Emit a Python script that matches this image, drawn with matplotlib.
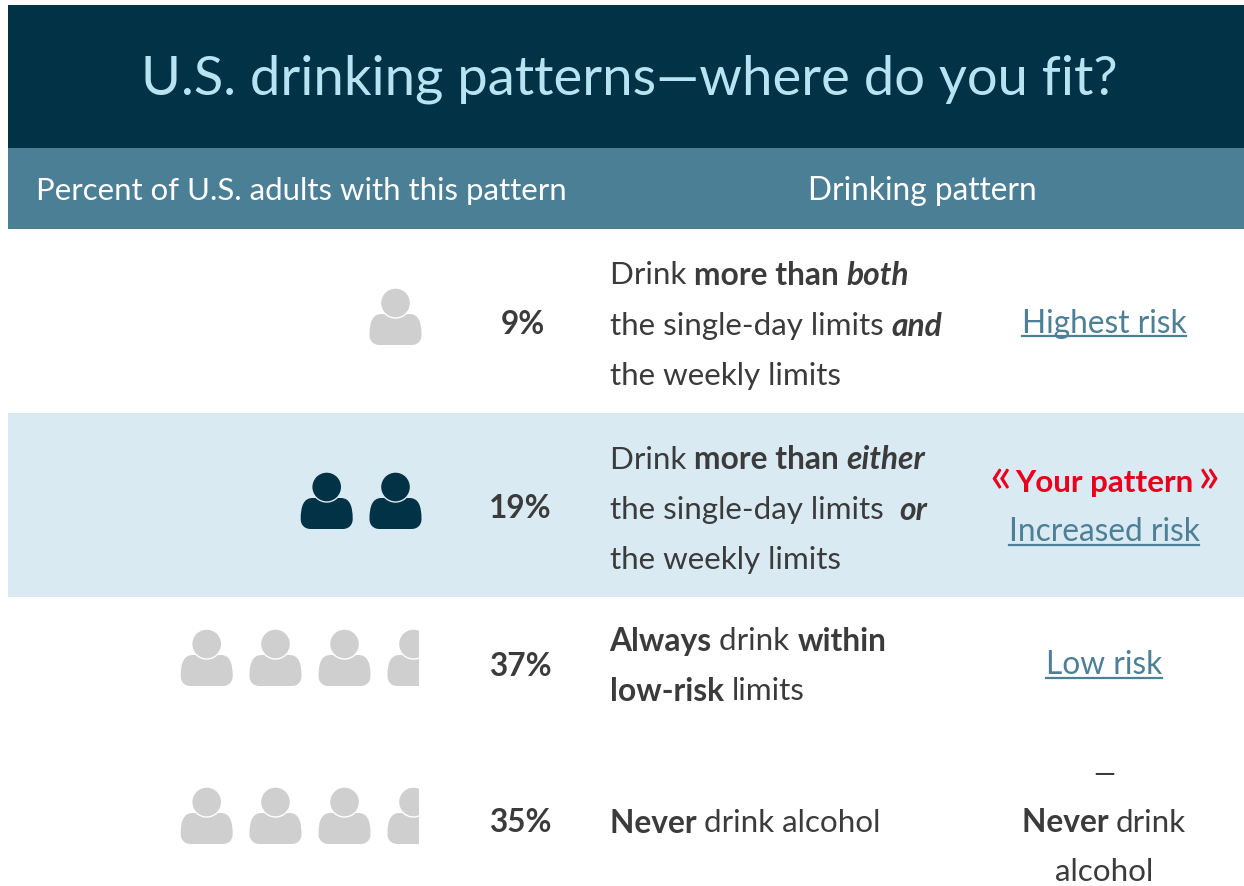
import matplotlib
matplotlib.use("Agg")
import matplotlib.pyplot as plt
from matplotlib.patches import Rectangle, Circle, PathPatch
from matplotlib.path import Path

plt.rcParams['font.family'] = ['Lato', 'DejaVu Sans']

title = "U.S. drinking patterns\u2014where do you fit?"
col_left = "Percent of U.S. adults with this pattern"
col_right = "Drinking pattern"
percent_labels = ["9%", "19%", "37%", "35%"]
risk_labels = ["Highest risk", "Increased risk", "Low risk"]

GREY = "#cfcfcf"
NAVY = "#023246"
LINK = "#4d7f96"
TEXT = "#3b3b3b"
PALE = "#d9eaf2"

fig = plt.figure(figsize=(12.44, 8.86), dpi=100)
ax = fig.add_axes([0, 0, 1, 1])
ax.set_xlim(0, 1244)
ax.set_ylim(886, 0)
ax.axis("off")
rend = fig.canvas.get_renderer()

ax.add_patch(Rectangle((8, 5), 1236, 143, color=NAVY, lw=0))
ax.add_patch(Rectangle((8, 148), 1236, 81, color="#4b7f96", lw=0))
ax.add_patch(Rectangle((8, 413), 1236, 184, color=PALE, lw=0))

ax.text(629, 79, title, color="#b8e3f2", fontsize=39.2, ha="center", va="center")
ax.text(301, 191, col_left, color="white", fontsize=22.4, ha="center", va="center")
ax.text(922, 191, col_right, color="white", fontsize=22.8, ha="center", va="center")


def person(cx, top, color, bg="white", clip_x=None):
    # head and shoulders icon, 52 px wide
    verts = [(-14, 25), (-23, 25), (-26, 33), (-26, 46), (-26, 52), (-22, 56), (-16, 56),
             (16, 56), (22, 56), (26, 52), (26, 46), (26, 33), (23, 25), (14, 25), (-14, 25)]
    codes = [Path.MOVETO, Path.CURVE4, Path.CURVE4, Path.CURVE4, Path.CURVE4, Path.CURVE4, Path.CURVE4,
             Path.LINETO, Path.CURVE4, Path.CURVE4, Path.CURVE4, Path.CURVE4, Path.CURVE4, Path.CURVE4,
             Path.CLOSEPOLY]
    body = PathPatch(Path([(cx + x, top + y) for x, y in verts], codes), fc=color, lw=0)
    head = Circle((cx, top + 14), 15, fc=color, ec=bg, lw=1.0)
    for p in (body, head):
        ax.add_patch(p)
        if clip_x is not None:
            p.set_clip_path(Rectangle((0, 0), clip_x, 886, transform=ax.transData))


person(395.5, 289, GREY)
person(326.7, 473, NAVY, bg=PALE)
person(395.5, 473, NAVY, bg=PALE)
for top in (630, 788):
    for cx in (206.7, 275.5, 344.5):
        person(cx, top, GREY)
    person(413.5, top, GREY, clip_x=419)

pct_y = [325, 508.5, 667, 823]
pct_x = [523, 520.5, 520, 520]
for x, y, s in zip(pct_x, pct_y, percent_labels):
    ax.text(x, y, s, color=TEXT, fontsize=22.8, fontweight="bold", ha="center", va="center")


def runs(x, y, parts):
    # text pieces in different weights on one line
    for s, weight, style in parts:
        size = 22.9 if weight == "bold" else 22.6
        t = ax.text(x, y, s, color=TEXT, fontsize=size, fontweight=weight, fontstyle=style,
                    ha="left", va="center_baseline")
        x += t.get_window_extent(rend).width


runs(609.5, 273, [("Drink ", "normal", "normal"), ("more than ", "bold", "normal"), ("both", "bold", "italic")])
runs(609.5, 324, [("the single-day limits ", "normal", "normal"), ("and", "bold", "italic")])
runs(609.5, 373, [("the weekly limits", "normal", "normal")])
runs(609.5, 457, [("Drink ", "normal", "normal"), ("more than ", "bold", "normal"), ("either", "bold", "italic")])
runs(609.5, 508, [("the single-day limits  ", "normal", "normal"), ("or", "bold", "italic")])
runs(609.5, 557, [("the weekly limits", "normal", "normal")])
runs(609.5, 639, [("Always ", "bold", "normal"), ("drink ", "normal", "normal"), ("within", "bold", "normal")])
runs(609.5, 689, [("low-risk ", "bold", "normal"), ("limits", "normal", "normal")])
runs(609.5, 821, [("Never ", "bold", "normal"), ("drink alcohol", "normal", "normal")])

risk_y = [324, 532, 665]
line_y = [336, 545, 678]
for y, ly, s in zip(risk_y, line_y, risk_labels):
    t = ax.text(1104, y, s, color=LINK, fontsize=22.8, ha="center", va="center")
    bb = t.get_window_extent(rend)
    ax.plot([1104 - bb.width / 2, 1104 + bb.width / 2], [ly, ly], color=LINK, lw=1.6)

RED = "#e8001c"
ax.text(1104, 483, "Your pattern", color=RED, fontsize=22.6, fontweight="bold", ha="center", va="center")
ax.text(1000, 478, "\u00ab", color=RED, fontsize=37, ha="center", va="center")
ax.text(1209, 478, "\u00bb", color=RED, fontsize=37, ha="center", va="center")
ax.text(1104, 775, "\u2014", color=TEXT, fontsize=20, ha="center", va="center")
runs(1021.5, 820, [("Never ", "bold", "normal"), ("drink", "normal", "normal")])
ax.text(1104, 872, "alcohol", color=TEXT, fontsize=22.6, ha="center", va="center")

fig.savefig("out.png", dpi=100)
